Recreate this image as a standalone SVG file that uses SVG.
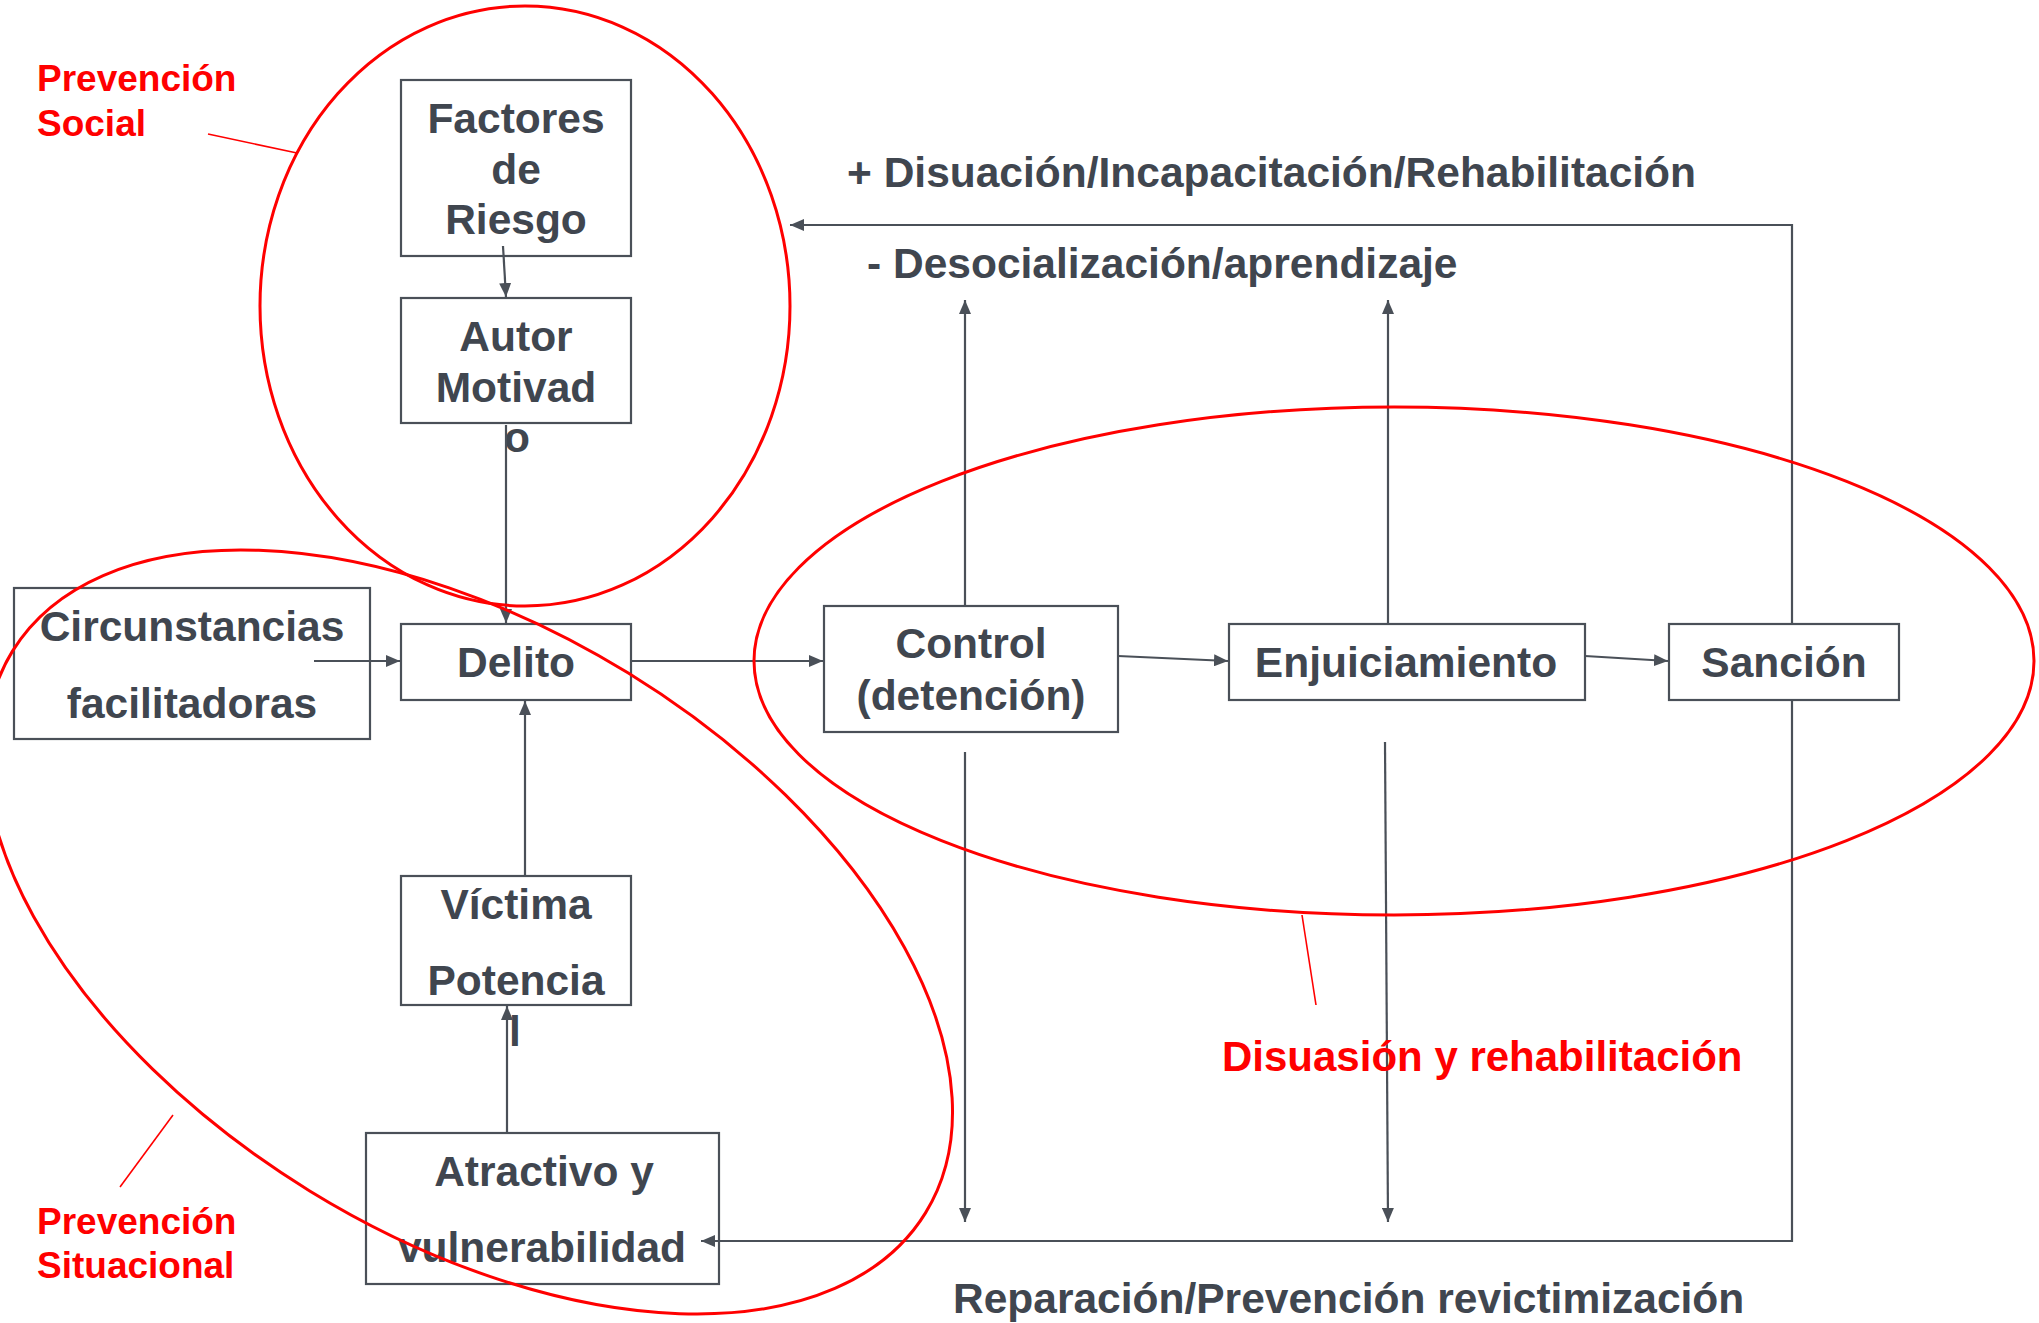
<svg xmlns="http://www.w3.org/2000/svg" width="2039" height="1323" viewBox="0 0 2039 1323">
<style>
.box{fill:#ffffff;stroke:#4a5058;stroke-width:2.2}
.t{font-family:"Liberation Sans",Arial,sans-serif;font-weight:bold;font-size:42.5px;fill:#40464f;text-anchor:middle}
.lbl{font-family:"Liberation Sans",Arial,sans-serif;font-weight:bold;font-size:42.5px;fill:#40464f}
.red{font-family:"Liberation Sans",Arial,sans-serif;font-weight:bold;font-size:37px;fill:#ff0000}
.c{fill:none;stroke:#4a5058;stroke-width:2.2}
.ell{fill:none;stroke:#ff0000;stroke-width:3}
.lead{fill:none;stroke:#ff0000;stroke-width:1.6}
</style>
<defs>
<marker id="ah" viewBox="0 0 14 12" refX="14" refY="6" markerWidth="14" markerHeight="12" markerUnits="userSpaceOnUse" orient="auto">
<path d="M0,0 L14,6 L0,12 Z" fill="#4a5058"/>
</marker>
</defs>
<rect width="2039" height="1323" fill="#ffffff"/>
<g id="factores"><rect class="box" x="401" y="80" width="230" height="176"/>
<text class="t" x="516" y="133">Factores</text><text class="t" x="516" y="184">de</text><text class="t" x="516" y="234">Riesgo</text></g>
<g id="autor"><rect class="box" x="401" y="298" width="230" height="125"/>
<text class="t" x="516" y="351">Autor</text><text class="t" x="516" y="402">Motivad</text><text class="t" x="517" y="452">o</text></g>
<g id="circunstancias"><rect class="box" x="14" y="588" width="356" height="151"/>
<text class="t" x="192" y="641">Circunstancias</text><text class="t" x="192" y="718">facilitadoras</text></g>
<g id="delito"><rect class="box" x="401" y="624" width="230" height="76"/>
<text class="t" x="516" y="677">Delito</text></g>
<g id="victima"><rect class="box" x="401" y="876" width="230" height="129"/>
<text class="t" x="516" y="919">Víctima</text><text class="t" x="516" y="995">Potencia</text><text class="t" x="515" y="1046">l</text></g>
<g id="atractivo"><rect class="box" x="366" y="1133" width="353" height="151"/>
<text class="t" x="544" y="1186">Atractivo y</text><text class="t" x="542" y="1262">vulnerabilidad</text></g>
<g id="control"><rect class="box" x="824" y="606" width="294" height="126"/>
<text class="t" x="971" y="658">Control</text><text class="t" x="971" y="710">(detención)</text></g>
<g id="enjuiciamiento"><rect class="box" x="1229" y="624" width="356" height="76"/>
<text class="t" x="1406" y="677">Enjuiciamiento</text></g>
<g id="sancion"><rect class="box" x="1669" y="624" width="230" height="76"/>
<text class="t" x="1784" y="677">Sanción</text></g>
<g id="connectors">
<path class="c" d="M503,246 L506,297" marker-end="url(#ah)"/>
<path class="c" d="M506,425 L506,623" marker-end="url(#ah)"/>
<path class="c" d="M314,661 L400,661" marker-end="url(#ah)"/>
<path class="c" d="M525,876 L525,701" marker-end="url(#ah)"/>
<path class="c" d="M507,1133 L507,1006" marker-end="url(#ah)"/>
<path class="c" d="M631,661 L823,661" marker-end="url(#ah)"/>
<path class="c" d="M1118,656 L1228,661" marker-end="url(#ah)"/>
<path class="c" d="M1585,656 L1668,661" marker-end="url(#ah)"/>
<path class="c" d="M965,606 L965,300" marker-end="url(#ah)"/>
<path class="c" d="M1388,624 L1388,300" marker-end="url(#ah)"/>
<path class="c" d="M965,752 L965,1222" marker-end="url(#ah)"/>
<path class="c" d="M1385,742 L1388,1222" marker-end="url(#ah)"/>
<path class="c" d="M1792,624 L1792,225 L790,225" marker-end="url(#ah)"/>
<path class="c" d="M1792,700 L1792,1241 L701,1241" marker-end="url(#ah)"/>
</g>
<g id="labels">
<text class="lbl" x="847" y="187">+ Disuación/Incapacitación/Rehabilitación</text>
<text class="lbl" x="867" y="278">- Desocialización/aprendizaje</text>
<text class="lbl" x="953" y="1313">Reparación/Prevención revictimización</text>
</g>
<g id="prevencion-social">
<ellipse class="ell" cx="525" cy="306" rx="265" ry="300"/>
<path class="lead" d="M208,134 L297,153"/>
<text class="red" x="37" y="91">Prevención</text><text class="red" x="37" y="136">Social</text>
</g>
<g id="prevencion-situacional">
<ellipse class="ell" cx="469" cy="932" rx="536" ry="304" transform="rotate(31.6 469 932)"/>
<path class="lead" d="M173,1115 L120,1187"/>
<text class="red" x="37" y="1234">Prevención</text><text class="red" x="37" y="1278">Situacional</text>
</g>
<g id="disuasion">
<ellipse class="ell" cx="1394" cy="661" rx="640" ry="254"/>
<path class="lead" d="M1302,915 L1316,1005"/>
<text class="red" x="1222" y="1071" style="font-size:42px">Disuasión y rehabilitación</text>
</g>
</svg>
